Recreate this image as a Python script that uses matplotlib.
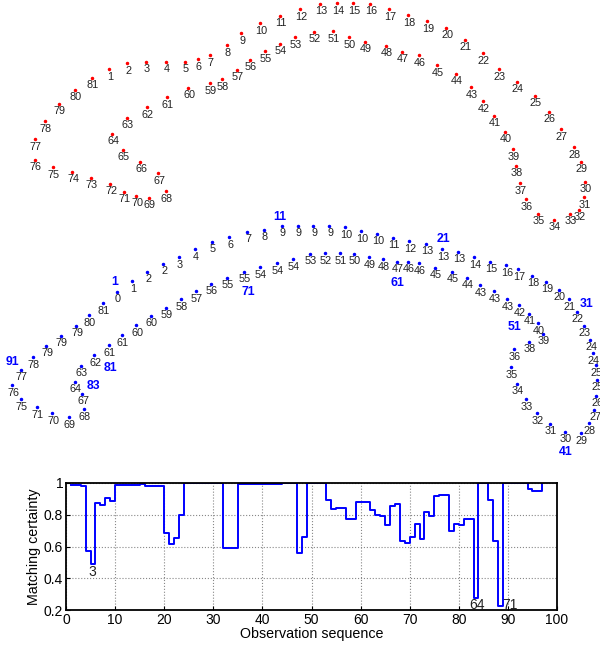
import matplotlib
matplotlib.use('Agg')
import matplotlib.pyplot as plt
import numpy as np

plt.rcParams['font.family'] = ['Liberation Sans', 'DejaVu Sans']

# reference trajectory (points 1..81), image coords
ref_x = [109, 127, 146, 166, 185, 198, 210, 227, 241, 260, 280, 300, 320, 337, 353, 370,
         389, 408, 427, 446, 465, 483, 499, 517, 535, 549, 561, 574, 581, 585, 584, 579,
         570, 554, 538, 526, 520, 516, 513, 505, 494, 483, 471, 456, 437, 419, 402, 386,
         365, 349, 333, 314, 295, 280, 265, 250, 237, 222, 210, 188, 167, 147, 127, 112,
         123, 140, 158, 166, 149, 136, 124, 110, 91, 72, 53, 35, 35, 45, 59, 75, 92]
ref_y = [69, 63, 62, 62, 62, 59, 55, 45, 33, 23, 16, 9, 4, 3, 3, 4,
         9, 15, 21, 28, 40, 53, 69, 82, 96, 112, 129, 147, 162, 182, 197, 210,
         214, 220, 214, 199, 183, 166, 149, 132, 116, 101, 87, 74, 65, 55, 52, 46,
         42, 37, 31, 32, 37, 44, 51, 60, 70, 79, 83, 88, 97, 107, 118, 134,
         150, 162, 173, 191, 198, 196, 192, 184, 178, 172, 167, 160, 139, 121, 104, 90, 78]

# observed trajectory (observations 1..97) and matched reference index
obs_x = [117, 132, 147, 163, 179, 195, 212, 229, 247, 264, 282, 298, 313, 329, 345, 361,
         377, 393, 409, 426, 442, 458, 474, 490, 506, 518, 532, 546, 559, 569, 577, 584,
         590, 593, 596, 597, 596, 594, 589, 581, 565, 550, 537, 526, 517, 511, 514, 529,
         543, 538, 529, 519, 507, 494, 480, 467, 452, 435, 419, 408, 397, 383, 369, 354,
         340, 325, 310, 293, 277, 260, 244, 227, 211, 196, 181, 166, 151, 136, 122, 109,
         94, 81, 75, 82, 84, 69, 52, 37, 21, 12, 21, 33, 46, 61, 76, 89, 103]
obs_y = [292, 281, 272, 264, 257, 249, 242, 237, 232, 230, 226, 226, 226, 226, 227, 231,
         234, 238, 241, 244, 249, 252, 257, 262, 265, 269, 276, 282, 290, 299, 312, 326,
         340, 353, 365, 380, 396, 410, 423, 433, 432, 424, 413, 399, 384, 367, 349, 342,
         334, 323, 314, 305, 299, 291, 285, 278, 272, 268, 263, 262, 262, 259, 257, 254,
         253, 253, 254, 259, 263, 267, 272, 278, 284, 291, 299, 308, 316, 325, 335, 345,
         355, 366, 382, 394, 409, 417, 413, 407, 399, 385, 370, 357, 346, 336, 326, 315, 303]
obs_match = [0, 1, 2, 2, 3, 4, 5, 6, 7, 8, 9, 9, 9, 9, 10, 10, 10, 11, 12, 13, 13, 13, 14,
             15, 16, 17, 18, 19, 20, 21, 22, 23, 24, 24, 25, 25, 26, 27, 28, 29, 30, 31, 32,
             33, 34, 35, 36, 38, 39, 40, 41, 42, 43, 43, 43, 44, 45, 45, 46, 46, 47, 48, 49,
             50, 51, 52, 53, 54, 54, 54, 55, 55, 56, 57, 58, 59, 60, 60, 61, 61, 62, 63, 64,
             67, 68, 69, 70, 71, 75, 76, 77, 78, 79, 79, 79, 80, 81]

# highlighted observation numbers
marked_obs = [1, 11, 21, 31, 41, 51, 61, 71, 81, 83, 91]
marked_offset = {1: (-2, -10), 11: (-2, -9), 21: (1, -10), 31: (10, -8), 41: (1, 20),
                 51: (-14, 13), 61: (0, 21), 71: (4, 20), 81: (16, 13), 83: (18, 4),
                 91: (-9, -8)}

# matching certainty per observation
certainty = [0.985, 0.985, 0.98, 0.57, 0.49, 0.875, 0.86, 0.905, 0.885, 0.985,
             0.99, 0.99, 0.99, 0.99, 0.995, 0.98, 0.98, 0.98, 0.98, 0.685,
             0.615, 0.655, 0.80, 1.0, 1.0, 1.0, 1.0, 1.0, 1.0, 1.0,
             1.0, 0.592, 0.592, 0.588, 0.995, 0.995, 0.995, 0.995, 0.995, 0.995,
             0.995, 0.995, 0.995, 1.0, 1.0, 1.0, 0.557, 0.658, 1.0, 1.0,
             1.0, 1.0, 0.89, 0.835, 0.84, 0.842, 0.773, 0.773, 0.878, 0.878,
             0.878, 0.827, 0.80, 0.795, 0.733, 0.853, 0.867, 0.636, 0.625, 0.657,
             0.743, 0.65, 0.82, 0.794, 0.918, 0.924, 0.924, 0.695, 0.743, 0.737,
             0.773, 0.773, 0.278, 1.0, 1.0, 0.895, 0.632, 0.225, 1.0, 1.0,
             1.0, 1.0, 1.0, 0.962, 0.95, 0.95, 1.0]
dip_labels = [(5.3, 0.44, '3'), (83.7, 0.232, '64'), (90.4, 0.232, '71')]

fig = plt.figure(figsize=(6.0, 6.46), dpi=100)

# top: trajectories
ax_t = fig.add_axes([0, 176 / 646, 1, 470 / 646])
ax_t.set_xlim(0, 600)
ax_t.set_ylim(470, 0)
ax_t.axis('off')

ax_t.plot(ref_x, ref_y, ls='none', marker='.', ms=3, color='red')
for i, (x, y) in enumerate(zip(ref_x, ref_y)):
    ax_t.text(x + 1, y + 7.5, str(i + 1), fontsize=7.8, ha='center', va='center', color='#222222')

ax_t.plot(obs_x, obs_y, ls='none', marker='.', ms=3, color='blue')
for x, y, m in zip(obs_x, obs_y, obs_match):
    ax_t.text(x + 1, y + 7.5, str(m), fontsize=7.8, ha='center', va='center', color='#222222')
for k in marked_obs:
    dx, dy = marked_offset[k]
    ax_t.text(obs_x[k - 1] + dx, obs_y[k - 1] + dy, str(k), fontsize=8.8, fontweight='bold',
              ha='center', va='center', color='blue')

# bottom: matching certainty
ax = fig.add_axes([66 / 600, 36 / 646, 491 / 600, 127 / 646])
obs_idx = np.arange(1, len(certainty) + 1)
ax.step(obs_idx, certainty, where='post', color='blue', lw=1.4)
for x, y, s in dip_labels:
    ax.text(x, y, s, fontsize=10, ha='center', va='center', color='#222222')
ax.set_xlim(0, 100)
ax.set_ylim(0.2, 1)
ax.set_xticks(np.arange(0, 101, 10))
ax.set_yticks([0.2, 0.4, 0.6, 0.8, 1.0])
ax.set_yticklabels(['0.2', '0.4', '0.6', '0.8', '1'])
ax.tick_params(direction='in', labelsize=10, length=3, pad=2)
ax.grid(True, ls=':', color='#888888', lw=0.8)
for sp in ax.spines.values():
    sp.set_linewidth(1.3)
ax.set_xlabel('Observation sequence', fontsize=10.3, labelpad=0)
ax.set_ylabel('Matching certainty', fontsize=10.3, labelpad=2)

fig.savefig('out.png', dpi=100)
